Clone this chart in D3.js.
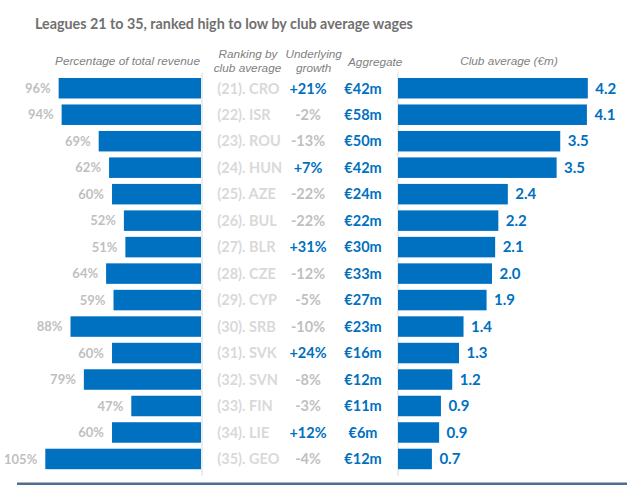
<!DOCTYPE html>
<html><head><meta charset="utf-8">
<script src="https://cdn.jsdelivr.net/npm/d3@7"></script>
<style>html,body{margin:0;padding:0;background:#fff;}svg{display:block;}</style>
</head><body>
<script>
const countries = ["CRO","ISR","ROU","HUN","AZE","BUL","BLR","CZE","CYP","SRB","SVK","SVN","FIN","LIE","GEO"];
const ranks = [21,22,23,24,25,26,27,28,29,30,31,32,33,34,35];
const pctRevenue = [96,94,69,62,60,52,51,64,59,88,60,79,47,60,105];
const growth = [21,-2,-13,7,-22,-22,31,-12,-5,-10,24,-8,-3,12,-4];
const aggregate = [42,58,50,42,24,22,30,33,27,23,16,12,11,6,12];
const clubAvg = [4.20,4.18,3.59,3.51,2.43,2.22,2.15,2.08,1.96,1.45,1.35,1.20,0.95,0.91,0.75];
const clubAvgLabels = ["4.2","4.1","3.5","3.5","2.4","2.2","2.1","2.0","1.9","1.4","1.3","1.2","0.9","0.9","0.7"];

const W = 627, H = 485;
const BLUE = "#0070c0";
const svg = d3.select("body").append("svg").attr("width", W).attr("height", H);
const boldFont = "Lato, 'Open Sans', sans-serif";
const hdrFont = "'Liberation Sans', Arial, sans-serif";

const rows = countries.map((c,i)=>({c, rank:ranks[i], pct:pctRevenue[i], g:growth[i], agg:aggregate[i], avg:clubAvg[i], avgLabel:clubAvgLabels[i]}));

const y = d3.scaleBand().domain(countries).range([72, 475.2]).paddingInner(0.226).paddingOuter(0.226);
const xL = d3.scaleLinear().domain([0, 105]).range([201, 45.3]);
const xR = d3.scaleLinear().domain([0, 4.2]).range([398, 587.8]);

// title
svg.append("text").attr("x", 35).attr("y", 29.3)
  .attr("font-family", boldFont).attr("font-weight", 700).attr("font-size", 14.3)
  .attr("fill", "#707070").text("Leagues 21 to 35, ranked high to low by club average wages");

// headers
const hdr = (x, yy, t) => svg.append("text").attr("x", x).attr("y", yy).attr("text-anchor","middle")
  .attr("font-family", hdrFont).attr("font-style","italic").attr("font-size", 11.8).attr("fill","#7f7f7f").text(t);
hdr(127.5, 64.5, "Percentage of total revenue");
hdr(248, 58.3, "Ranking by");
hdr(247.5, 71.7, "club average");
hdr(313.7, 58.3, "Underlying");
hdr(313.7, 71.7, "growth");
hdr(375.2, 66, "Aggregate");
hdr(509, 64.5, "Club average (€m)");

// axis lines
const axL = d3.axisRight(y).tickSize(0).tickFormat("");
svg.append("g").attr("transform", `translate(${xL(0)+0.5},0)`).call(axL)
  .call(g=>g.select(".domain").attr("stroke","#d9d9d9").attr("stroke-width",1));
const axR = d3.axisLeft(y).tickSize(0).tickFormat("");
svg.append("g").attr("transform", `translate(${xR(0)-0.5},0)`).call(axR)
  .call(g=>g.select(".domain").attr("stroke","#d9d9d9").attr("stroke-width",1));

// left bars
svg.append("g").selectAll("rect").data(rows).join("rect")
  .attr("x", d=>xL(d.pct)).attr("width", d=>xL(0)-xL(d.pct))
  .attr("y", d=>y(d.c)).attr("height", y.bandwidth()).attr("fill", BLUE);
svg.append("g").selectAll("text").data(rows).join("text")
  .attr("x", d=>xL(d.pct)-8).attr("y", d=>y(d.c)+y.bandwidth()/2+4.6)
  .attr("text-anchor","end").attr("font-family", boldFont).attr("font-weight",700).attr("font-size",13)
  .attr("fill","#bfbfbf").text(d=>d.pct+"%");

// ranking labels
const mid = d=>y(d.c)+y.bandwidth()/2+5.3;
svg.append("g").selectAll("text").data(rows).join("text")
  .attr("x", 217.3).attr("y", mid)
  .attr("font-family", boldFont).attr("font-weight",700).attr("font-size",14.5)
  .attr("fill","#d9d9d9").text(d=>`(${d.rank}). ${d.c}`);

// growth
svg.append("g").selectAll("text").data(rows).join("text")
  .attr("x", 308).attr("y", mid).attr("text-anchor","middle")
  .attr("font-family", boldFont).attr("font-weight",700).attr("font-size",14.5)
  .attr("fill", d=>d.g>0?BLUE:"#bfbfbf").text(d=>(d.g>0?"+":"")+d.g+"%");

// aggregate
svg.append("g").selectAll("text").data(rows).join("text")
  .attr("x", 363).attr("y", mid).attr("text-anchor","middle")
  .attr("font-family", boldFont).attr("font-weight",700).attr("font-size",14.5)
  .attr("fill", BLUE).text(d=>"€"+d.agg+"m");

// right bars
svg.append("g").selectAll("rect").data(rows).join("rect")
  .attr("x", xR(0)).attr("width", d=>xR(d.avg)-xR(0))
  .attr("y", d=>y(d.c)).attr("height", y.bandwidth()).attr("fill", BLUE);
svg.append("g").selectAll("text").data(rows).join("text")
  .attr("x", d=>xR(d.avg)+7.5).attr("y", mid)
  .attr("font-family", boldFont).attr("font-weight",700).attr("font-size",15)
  .attr("fill", BLUE).text(d=>d.avgLabel);

// bottom rule
svg.append("rect").attr("x",17).attr("y",482.5).attr("width",W-17).attr("height",2.5).attr("fill","#4f6e8b");
</script>
</body></html>
